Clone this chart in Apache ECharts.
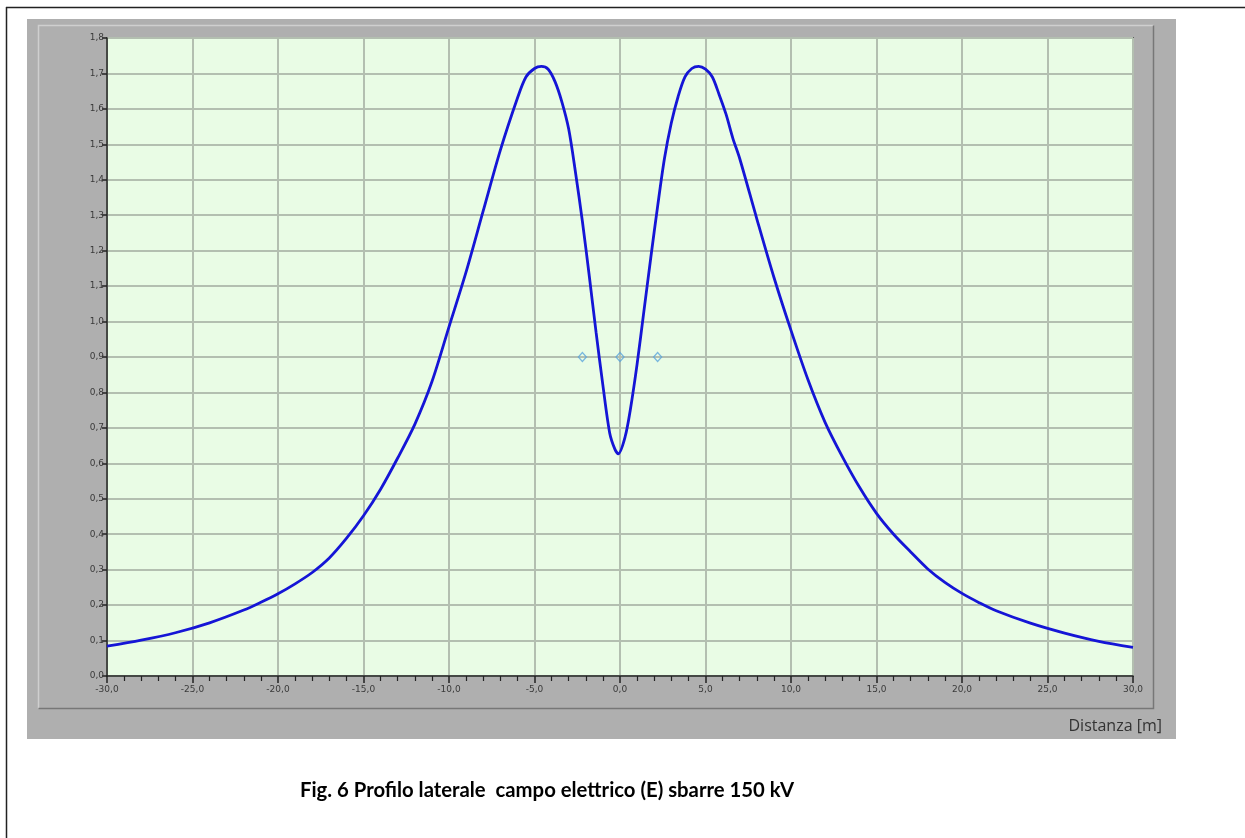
<!DOCTYPE html>
<html>
<head>
<meta charset="utf-8">
<title>Profilo laterale campo elettrico</title>
<script src="https://cdn.jsdelivr.net/npm/echarts@6/dist/echarts.min.js"></script>
<style>
  html, body { margin: 0; padding: 0; background: #fff; }
  #chart { width: 1245px; height: 838px; }
</style>
</head>
<body>
<div id="chart"></div>
<script>
// distance from the busbar axis [m]
const distX = [
  -30, -28, -26, -24, -22, -21, -20, -19, -18, -17, -16, -15, -14, -13, -12, -11, -10,
  -9, -8, -7, -6, -5.5, -5, -4.6, -4.2, -3.8, -3.4, -3, -2.6, -2.2, -1.8, -1.4,
  -1.0, -0.6, -0.3, -0.1, 0.3, 0.6, 1.0, 1.4, 1.8, 2.2, 2.6, 3.0, 3.4, 3.8, 4.2,
  4.6, 5.0, 5.4, 5.8, 6.2, 6.6, 7, 8, 9, 10, 11, 12, 13, 14, 15, 16, 17, 18, 19,
  20, 21, 22, 24, 26, 28, 30
];
// electric field E [kV/m]
const fieldE = [
  0.084, 0.101, 0.122, 0.150, 0.186, 0.208, 0.232, 0.26, 0.292, 0.333, 0.388, 0.452, 0.527, 0.615, 0.71, 0.83, 0.985,
  1.14, 1.312, 1.483, 1.63, 1.69, 1.714, 1.72, 1.712, 1.677, 1.62, 1.543, 1.42, 1.283, 1.13, 0.97,
  0.82, 0.685, 0.64, 0.627, 0.675, 0.75, 0.88, 1.03, 1.18, 1.325, 1.46, 1.56, 1.635, 1.69, 1.714,
  1.72, 1.712, 1.69, 1.64, 1.585, 1.517, 1.46, 1.29, 1.125, 0.975, 0.835, 0.715, 0.619, 0.533, 0.459, 0.4, 0.35, 0.302, 0.264,
  0.233, 0.207, 0.184, 0.149, 0.121, 0.098, 0.081
];
// conductor markers
const condX = [-2.2, 0, 2.2];
const condY = [0.9, 0.9, 0.9];

const titleText = 'Fig. 6 Profilo laterale  campo elettrico (E) sbarre 150 kV';
const xName = 'Distanza [m]';

const chart = echarts.init(document.getElementById('chart'));

const fmt = v => v.toFixed(1).replace('.', ',');

const option = {
  animation: false,
  backgroundColor: '#ffffff',
  graphic: [
    // page frame (left/top)
    { type: 'line', shape: { x1: 6.5, y1: 7, x2: 6.5, y2: 838 }, style: { stroke: '#222', lineWidth: 1.5 } },
    { type: 'line', shape: { x1: 6, y1: 7.5, x2: 1245, y2: 7.5 }, style: { stroke: '#222', lineWidth: 1.5 } },
    // grey panel
    { type: 'rect', z: -10, shape: { x: 27, y: 19, width: 1149, height: 720 }, style: { fill: '#afafaf' } },
    { type: 'polyline', z: -9, shape: { points: [[38.5, 708.5], [38.5, 25.5], [1153.5, 25.5]] }, style: { stroke: '#cfcfcf', lineWidth: 1.5, fill: null } },
    { type: 'polyline', z: -9, shape: { points: [[1153.5, 25.5], [1153.5, 708.5], [38.5, 708.5]] }, style: { stroke: '#777', lineWidth: 1.5, fill: null } },
    {
      type: 'text', right: 83, top: 718,
      style: { text: xName, font: '16px "Open Sans"', fill: '#333' }
    },
    {
      type: 'text', left: 300, top: 780,
      style: { text: titleText, font: 'bold 20.3px Lato', fill: '#000' }
    }
  ],
  grid: {
    left: 107, top: 38, right: 112, bottom: 162,
    show: true,
    backgroundColor: '#e9fce5',
    borderColor: '#222',
    borderWidth: 1.5
  },
  xAxis: {
    type: 'value',
    min: -30, max: 30, interval: 5,
    axisLine: { show: true, onZero: false, lineStyle: { color: '#222', width: 1.5 } },
    axisTick: { show: true, length: 7, lineStyle: { color: '#222', width: 1.5 } },
    minorTick: { show: true, splitNumber: 5, length: 5, lineStyle: { color: '#222', width: 1.2 } },
    axisLabel: { margin: 9, fontSize: 9, fontFamily: 'DejaVu Sans', color: '#3a3a3a', formatter: fmt },
    splitLine: { show: true, lineStyle: { color: '#b3bfb0', width: 2 } }
  },
  yAxis: {
    type: 'value',
    min: 0, max: 1.8, interval: 0.1,
    axisLine: { show: true, onZero: false, lineStyle: { color: '#222', width: 1.5 } },
    axisTick: { show: true, length: 5, lineStyle: { color: '#222', width: 1.5 } },
    axisLabel: { margin: 3, fontSize: 9, fontFamily: 'DejaVu Sans', color: '#3a3a3a', formatter: fmt },
    splitLine: { show: true, lineStyle: { color: '#b3bfb0', width: 2 } }
  },
  series: [
    {
      type: 'line',
      data: distX.map((x, i) => [x, fieldE[i]]),
      smooth: 0.3,
      showSymbol: false,
      lineStyle: { color: '#1515d6', width: 2.8 },
      z: 3
    },
    {
      type: 'scatter',
      data: condX.map((x, i) => [x, condY[i]]),
      symbol: 'diamond',
      symbolSize: [8, 9],
      itemStyle: { color: 'rgba(0,0,0,0)', borderColor: '#5aa5dc', borderWidth: 1.3 },
      z: 4
    }
  ]
};

chart.setOption(option);
window.addEventListener('resize', () => chart.resize());
</script>
</body>
</html>
